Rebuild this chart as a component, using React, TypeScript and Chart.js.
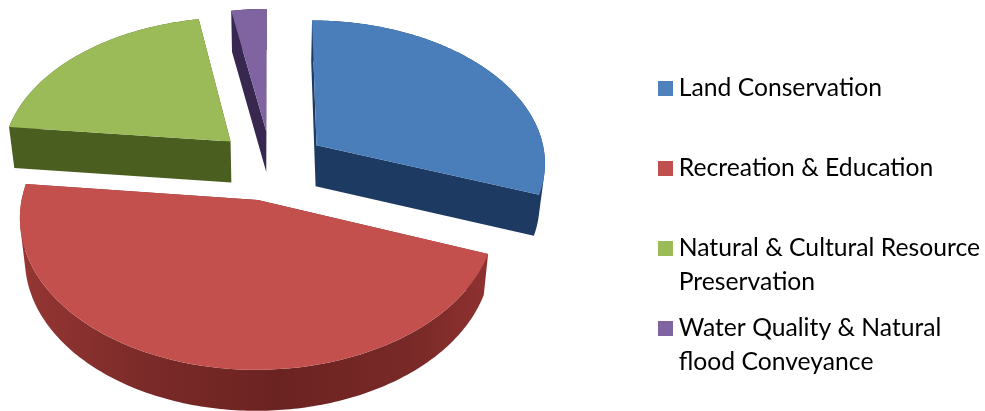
import React, { useEffect, useRef } from "react";
import { Chart, registerables } from "chart.js";

Chart.register(...registerables);

const categories = [
  "Land Conservation",
  "Recreation & Education",
  "Natural & Cultural Resource Preservation",
  "Water Quality & Natural flood Conveyance",
];
const shares = [30.6, 46.1, 20.5, 2.8];
const legendLines = [
  ["Land Conservation", ""],
  ["Recreation & Education", ""],
  ["Natural & Cultural Resource", "Preservation"],
  ["Water Quality & Natural", "flood Conveyance"],
];
const topColors = ["#4a7ebb", "#c4504d", "#9bbb59", "#8064a2"];
const sideColors = ["#1d3a62", "#76282a", "#4a5e20", "#38284f"];
const legendColors = ["#4f81bd", "#c0504d", "#9bbb59", "#8064a2"];

// view of the tilted, exploded pie
const view = { ox: 271, oy: 165, rx: 230, ry: 142.7, persp: 0.1106, explode: 0.245, depth: 41, baseShrink: 0.98 };

type P = [number, number];

function project(X: number, Y: number): P {
  const s = 1 / (1 - view.persp * Y);
  return [view.ox + view.rx * X * s, view.oy + view.ry * Y * s];
}
function below(p: P): P {
  return [view.ox + (p[0] - view.ox) * view.baseShrink, p[1] + view.depth];
}

function swatch(color: string) {
  const c = document.createElement("canvas");
  c.width = 15;
  c.height = 15;
  const g = c.getContext("2d") as CanvasRenderingContext2D;
  g.fillStyle = color;
  g.fillRect(0, 0, 15, 15);
  return c;
}

const pie3d = {
  id: "pie3d",
  beforeDatasetsDraw(chart: any) {
    const ctx: CanvasRenderingContext2D = chart.ctx;
    const arcs = chart.getDatasetMeta(0).data.map((arc: any, i: number) => {
      const mid = (arc.startAngle + arc.endAngle) / 2;
      return { arc, i, mid };
    });
    arcs.sort((a: any, b: any) => Math.sin(a.mid) - Math.sin(b.mid));
    for (const { arc, i, mid } of arcs) {
      const cx = Math.cos(mid) * view.explode;
      const cy = Math.sin(mid) * view.explode;
      const outline: P[] = [project(cx, cy)];
      const span = arc.endAngle - arc.startAngle;
      const n = Math.max(4, Math.ceil(span / 0.015));
      for (let k = 0; k <= n; k++) {
        const t = arc.startAngle + (span * k) / n;
        outline.push(project(cx + Math.cos(t), cy + Math.sin(t)));
      }
      let side: any = sideColors[i];
      if (i === 1) {
        const g = ctx.createLinearGradient(20, 0, 490, 0);
        g.addColorStop(0, "#963633");
        g.addColorStop(0.25, "#7c2b29");
        g.addColorStop(0.55, "#6b2321");
        g.addColorStop(0.85, "#7a2a28");
        g.addColorStop(1, "#8f3230");
        side = g;
      }
      ctx.save();
      ctx.fillStyle = side;
      ctx.beginPath();
      for (let k = 0; k < outline.length; k++) {
        const a = outline[k];
        const b = outline[(k + 1) % outline.length];
        let quad: P[] = [a, b, below(b), below(a)];
        let area = 0;
        quad.forEach((p, j) => {
          const q = quad[(j + 1) % 4];
          area += p[0] * q[1] - q[0] * p[1];
        });
        if (area < 0) quad = quad.reverse();
        quad.forEach((p, j) => (j ? ctx.lineTo(p[0], p[1]) : ctx.moveTo(p[0], p[1])));
        ctx.closePath();
      }
      ctx.fill("nonzero");
      ctx.beginPath();
      outline.forEach((p, k) => (k ? ctx.lineTo(p[0], p[1]) : ctx.moveTo(p[0], p[1])));
      ctx.closePath();
      ctx.fillStyle = topColors[i];
      ctx.fill();
      ctx.restore();
    }
    return false;
  },
};

export default function App() {
  const ref = useRef<HTMLCanvasElement>(null);
  useEffect(() => {
    const chart = new Chart(ref.current as HTMLCanvasElement, {
      type: "pie",
      data: {
        labels: categories,
        datasets: [{ data: shares, backgroundColor: legendColors, borderWidth: 0 }],
      },
      options: {
        animation: false,
        responsive: false,
        layout: { padding: { top: 64, right: -5 } },
        plugins: {
          tooltip: { enabled: false },
          title: { display: false },
          legend: {
            position: "right",
            align: "start",
            labels: {
              usePointStyle: true,
              pointStyleWidth: 2,
              boxWidth: 15,
              boxHeight: 15,
              padding: 12,
              color: "#111111",
              font: { family: "Lato", size: 24.7, lineHeight: "34px" },
              generateLabels: () =>
                legendLines.map((text, i) => ({
                  text,
                  fillStyle: legendColors[i],
                  strokeStyle: legendColors[i],
                  lineWidth: 0,
                  pointStyle: swatch(legendColors[i]),
                  hidden: false,
                  index: i,
                })),
            },
          },
        },
      },
      plugins: [pie3d],
    } as any);
    return () => chart.destroy();
  }, []);
  return (
    <div style={{ position: "fixed", left: 0, top: 0, width: 985, height: 411, background: "#fff" }}>
      <canvas ref={ref} width={985} height={411} style={{ display: "block" }} />
    </div>
  );
}
